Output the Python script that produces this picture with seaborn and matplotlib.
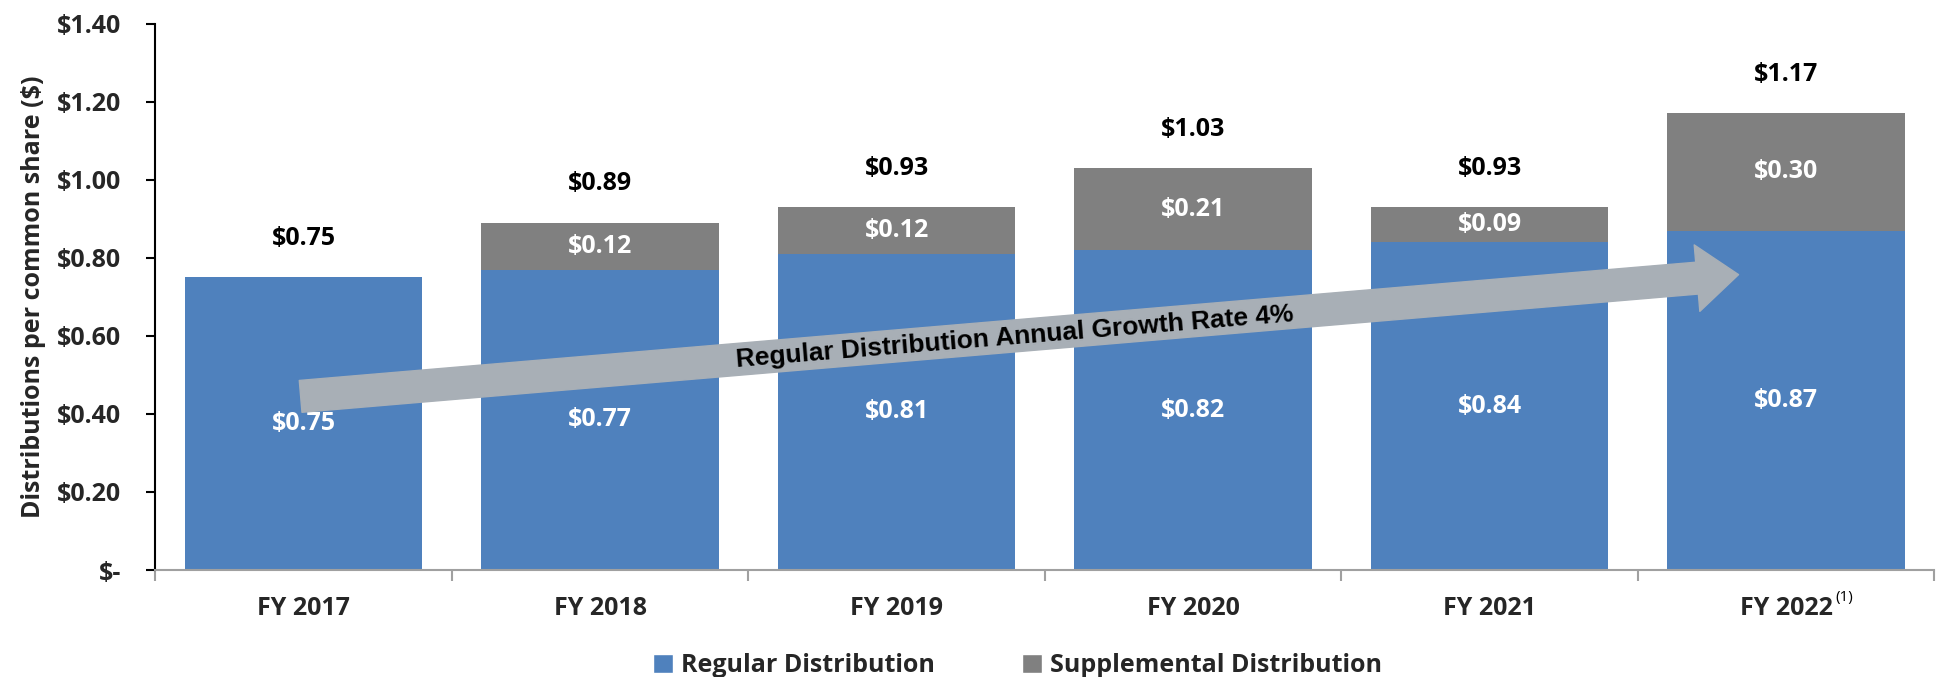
import matplotlib
matplotlib.use('Agg')
import matplotlib.pyplot as plt
import seaborn as sns
import numpy as np
from matplotlib.patches import Patch
from matplotlib.ticker import FixedLocator

# data
years = ['FY 2017', 'FY 2018', 'FY 2019', 'FY 2020', 'FY 2021', 'FY 2022']
regular = [0.75, 0.77, 0.81, 0.82, 0.84, 0.87]
supplemental = [0.00, 0.12, 0.12, 0.21, 0.09, 0.30]
yticks = [0.0, 0.2, 0.4, 0.6, 0.8, 1.0, 1.2, 1.4]

totals = [r + s for r, s in zip(regular, supplemental)]

blue = '#4F81BD'
gray = '#808080'
arrow_col = '#A8AFB6'

sns.set_style('white')
plt.rcParams['font.family'] = ['Open Sans', 'DejaVu Sans']

fig = plt.figure(figsize=(19.42, 6.77), dpi=100)
ax = fig.add_axes([0.080, 0.158, 0.916, 0.807])

# stacked bars: total in gray, regular part drawn over it
sns.barplot(x=years, y=totals, color=gray, width=0.8, saturation=1, linewidth=0, ax=ax)
sns.barplot(x=years, y=regular, color=blue, width=0.8, saturation=1, linewidth=0, ax=ax)

ax.set_xlim(-0.5, 5.5)
ax.set_ylim(0, 1.4)

fs = 18
# labels inside and above bars
for i in range(len(years)):
    ax.text(i, regular[i] / 2, f'${regular[i]:.2f}', ha='center', va='center',
            color='white', fontsize=fs, fontweight='bold')
    if supplemental[i] > 0:
        ax.text(i, regular[i] + supplemental[i] / 2, f'${supplemental[i]:.2f}',
                ha='center', va='center', color='white', fontsize=fs, fontweight='bold')
    ax.annotate(f'${totals[i]:.2f}', xy=(i, totals[i]), xytext=(0, 28),
                textcoords='offset points', ha='center', va='center',
                color='black', fontsize=fs, fontweight='bold')

# growth arrow
ax.annotate('', xy=(4.84, 0.757), xytext=(-0.01, 0.445),
            arrowprops=dict(arrowstyle='simple,head_length=3.0,head_width=4.8,tail_width=2.3',
                            mutation_scale=10, color=arrow_col, shrinkA=0, shrinkB=0))
ax.text(2.40, 0.598, 'Regular Distribution Annual Growth Rate 4%', ha='center', va='center',
        rotation=4.7, rotation_mode='anchor', fontsize=19, fontweight='bold',
        family=['Liberation Sans', 'DejaVu Sans'], color='black')

# axes styling
ax.set_yticks(yticks)
ax.set_yticklabels(['$-' if v == 0 else f'${v:.2f}' for v in yticks],
                   fontsize=fs, fontweight='bold')
ax.set_ylabel('Distributions per common share ($)', fontsize=18, fontweight='bold', labelpad=8)
ax.set_xticks(range(len(years)))
ax.set_xticklabels(years, fontsize=fs, fontweight='bold')
ax.xaxis.set_minor_locator(FixedLocator(np.arange(-0.5, 6, 1)))
ax.tick_params(axis='x', which='major', length=0, pad=19)
ax.tick_params(axis='x', which='minor', length=8, width=1.5, color='#A0A0A0', direction='out', bottom=True)
ax.tick_params(axis='y', length=6.5, width=1.5, color='black', direction='out', left=True, pad=18)

for s in ['top', 'right']:
    ax.spines[s].set_visible(False)
ax.spines['left'].set_color('black')
ax.spines['left'].set_linewidth(1.5)
ax.spines['bottom'].set_color('#A0A0A0')
ax.spines['bottom'].set_linewidth(1.5)

# superscript for FY 2022, attached to its tick label
fig.canvas.draw()
last_label = ax.get_xticklabels()[-1]
ax.annotate('(1)', xy=(1, 1), xycoords=last_label, xytext=(2, -1), textcoords='offset points',
            ha='left', va='center', fontsize=11, color='black')

handles = [Patch(facecolor=blue, label='Regular Distribution'),
           Patch(facecolor=gray, label='Supplemental Distribution')]
fig.legend(handles=handles, loc='center', bbox_to_anchor=(0.524, 0.017), ncol=2,
           frameon=False, prop={'size': fs, 'weight': 'bold'},
           handlelength=0.8, handleheight=0.8, handletextpad=0.3, columnspacing=3.5)

fig.savefig('out.png', dpi=100)
